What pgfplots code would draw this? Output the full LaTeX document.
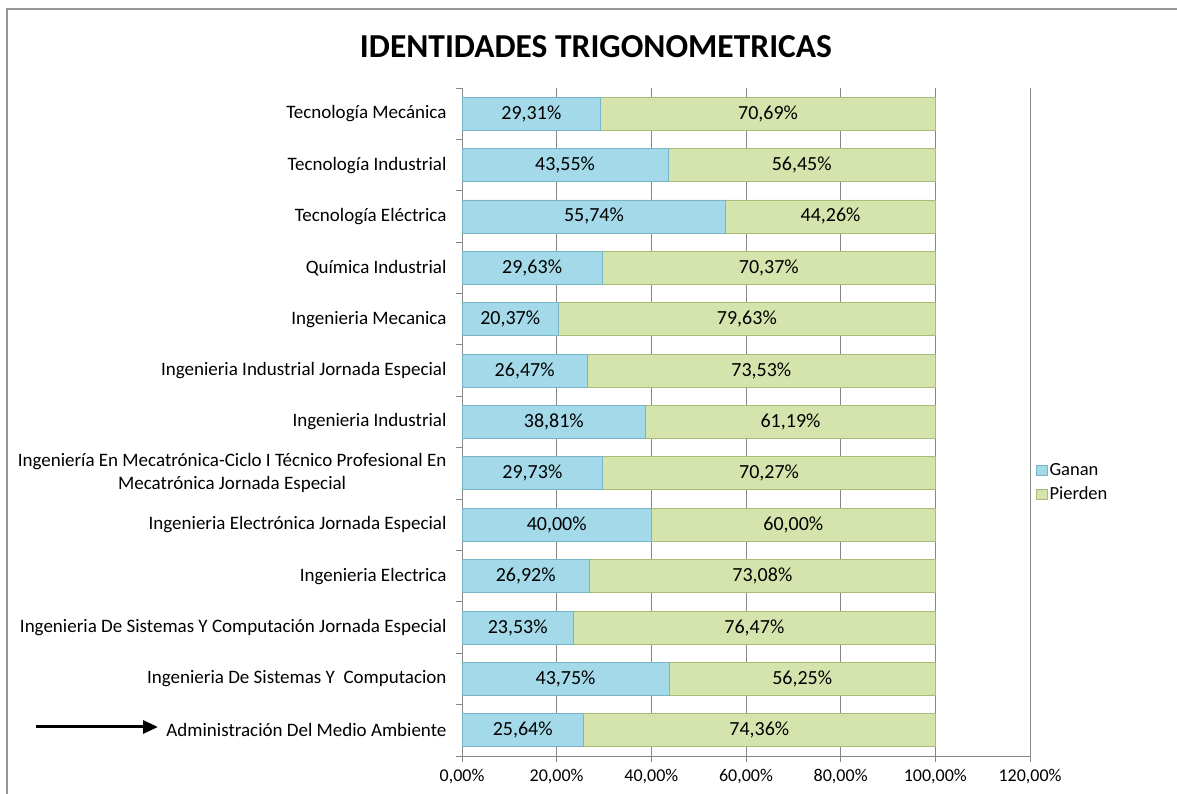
\documentclass[border=0pt]{standalone}
\usepackage{fontspec}
\setmainfont{Carlito}
\usepackage{pgfplots}
\usepackage{pgfplotstable}
\pgfplotsset{compat=1.18}
\usetikzlibrary{arrows.meta}
\definecolor{ganan}{RGB}{163,217,232}
\definecolor{gananedge}{RGB}{118,180,200}
\definecolor{pierden}{RGB}{213,228,172}
\definecolor{pierdenedge}{RGB}{168,188,118}
\definecolor{gridgray}{RGB}{134,134,134}
\definecolor{framegray}{RGB}{150,150,150}

\pgfplotstableread[col sep=comma]{
idx,g,p
0,25.64,74.36
1,43.75,56.25
2,23.53,76.47
3,26.92,73.08
4,40.00,60.00
5,29.73,70.27
6,38.81,61.19
7,26.47,73.53
8,20.37,79.63
9,29.63,70.37
10,55.74,44.26
11,43.55,56.45
12,29.31,70.69
}\data

\begin{document}
\begin{tikzpicture}
\useasboundingbox (0pt,0pt) rectangle (1177pt,794pt);
\begin{scope}[x=1pt,y=1pt]
\draw[framegray, line width=1.5pt] (7,0) -- (7,785) -- (1177,785);
\node[font=\fontsize{33.5}{38}\selectfont\bfseries] at (596,747) {IDENTIDADES TRIGONOMETRICAS};
\draw[line width=3pt, -{Triangle[length=15pt,width=13pt]}] (36,67) -- (158,67);
\end{scope}
\begin{axis}[
  at={(462pt,38pt)}, anchor=south west,
  scale only axis, width=568pt, height=668pt,
  xbar stacked, bar width=33pt,
  xmin=0, xmax=120, ymin=-0.5, ymax=12.5,
  axis x line*=bottom, axis y line*=left,
  axis line style={-, draw=gridgray, line width=0.9pt},
  xtick={0,20,40,60,80,100,120},
  xticklabels={{0,00\%},{20,00\%},{40,00\%},{60,00\%},{80,00\%},{100,00\%},{120,00\%}},
  xmajorgrids, grid style={draw=gridgray, line width=0.9pt},
  tick style={draw=gridgray, line width=0.9pt},
  xtick align=outside, ytick align=outside,
  major tick length=6pt,
  ytick={0,...,12},
  major y tick style={draw=none},
  minor ytick={-0.5,0.5,...,12.5},
  minor tick length=6pt,
  yticklabels={
    {Administración Del Medio Ambiente},
    {Ingenieria De Sistemas Y\ \ Computacion},
    {Ingenieria De Sistemas Y Computación Jornada Especial},
    {Ingenieria Electrica},
    {Ingenieria Electrónica Jornada Especial},
    {Ingeniería En Mecatrónica-Ciclo I Técnico Profesional En\\Mecatrónica Jornada Especial},
    {Ingenieria Industrial},
    {Ingenieria Industrial Jornada Especial},
    {Ingenieria Mecanica},
    {Química Industrial},
    {Tecnología Eléctrica},
    {Tecnología Industrial},
    {Tecnología Mecánica}},
  yticklabel style={align=center, font=\fontsize{19}{23}\selectfont, xshift=-6pt},
  xticklabel style={font=\fontsize{18}{21}\selectfont, yshift=-4pt},
  nodes near coords={\pgfmathprintnumber[fixed,fixed zerofill,precision=2,use comma,assume math mode=true]{\pgfplotspointmeta}\%},
  every node near coord/.append style={font=\fontsize{20}{23}\selectfont, text=black, anchor=center},
  legend style={at={(1.0106,0.441)}, anchor=north west, draw=none, fill=none,
    font=\fontsize{18.5}{21}\selectfont, row sep=6pt, inner sep=0pt,
    /tikz/every even column/.append style={column sep=2pt}},
  legend cell align=left,
  legend image code/.code={\draw[#1] (0pt,-5pt) rectangle (10.5pt,5pt);},
]
\addplot[fill=ganan, draw=gananedge, line width=0.8pt, point meta=\thisrow{g}]
  table[x=g, y=idx] {\data};
\addplot[fill=pierden, draw=pierdenedge, line width=0.8pt, point meta=\thisrow{p}]
  table[x=p, y=idx] {\data};
\legend{Ganan, Pierden}
\end{axis}
\end{tikzpicture}
\end{document}
